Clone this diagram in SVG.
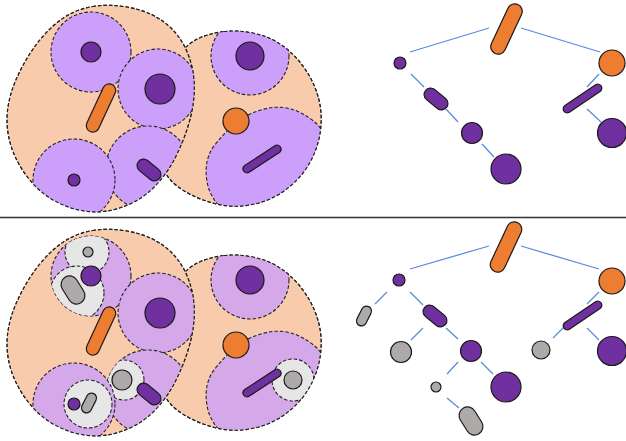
<svg xmlns="http://www.w3.org/2000/svg" xmlns:xlink="http://www.w3.org/1999/xlink" width="626" height="441" viewBox="0 0 626 441">
<style>
.blob{fill:#F8CBAD;stroke:#222;stroke-width:1.1;stroke-dasharray:3.5 2}
.line{fill:none;stroke:#222;stroke-width:1.1;stroke-dasharray:3.5 2}
.c1{fill:#CC9FFA;stroke:#222;stroke-width:1.1;stroke-dasharray:3.5 2}
.c2{fill:#D5A8EA;stroke:#222;stroke-width:1.1;stroke-dasharray:3.5 2}
.gc{fill:#E7E6E6;stroke:#222;stroke-width:1.1;stroke-dasharray:3.5 2}
.pu{fill:#7030A0;stroke:#1a1a1a;stroke-width:1.2}
.or{fill:#ED7D31;stroke:#1a1a1a;stroke-width:1.2}
.gr{fill:#AEAAAA;stroke:#1a1a1a;stroke-width:1.2}
.edge{stroke:#5B8BD9;stroke-width:1.3;fill:none}
</style>
<defs>
<path id="lb" d="M92.5,6.5 Q107,4 123.5,6.5 Q140,9 151.5,14.5 Q163,20 172,29 Q181,38 186.5,50.5 Q192,63 193.5,75.5 Q195,88 193.5,101 Q192,114 187.5,128 Q183,142 175.5,157 Q168,172 157,184 Q146,196 133,202.5 Q120,209 107.5,211 Q95,213 81.5,210.5 Q68,208 55,201 Q42,194 32,182.5 Q22,171 16,158.5 Q10,146 8,133 Q6,120 8,107 Q10,94 15,82 Q20,70 27.5,57.5 Q35,45 45,34 Q55,23 66.5,16 Q78,9 92.5,6.5 Z"/>
<path id="rb" d="M224,31.5 Q237,30 252.5,33 Q268,36 280,44 Q292,52 301,63.5 Q310,75 315,87.5 Q320,100 321,112.5 Q322,125 319,138.5 Q316,152 309,164 Q302,176 291,185.5 Q280,195 267.5,200 Q255,205 241.5,206 Q228,207 214.5,203.5 Q201,200 189.5,194 Q178,188 170.5,180 Q163,172 160.5,156 Q158,140 160.5,120 Q163,100 167.5,82.5 Q172,65 180,54 Q188,43 199.5,38 Q211,33 224,31.5 Z"/>
<path id="fc" d="M215.5,144 Q222,136 230,128 Q238,120 248,115 Q258,110 269,108 Q280,106 291,109 Q302,112 313.5,121 Q325,130 330,150 Q335,170 317.5,192.5 Q300,215 265,216.5 Q230,218 220,207 Q210,196 207.5,184 Q205,172 207,162 Q209,152 215.5,144 Z"/>
<clipPath id="cL1"><use xlink:href="#lb"/></clipPath>
<clipPath id="cR1"><use xlink:href="#rb"/></clipPath>
<clipPath id="cL2"><use xlink:href="#lb" transform="translate(0,224)"/></clipPath>
<clipPath id="cR2"><use xlink:href="#rb" transform="translate(0,224)"/></clipPath>
<clipPath id="cA2"><circle cx="91" cy="276" r="40"/></clipPath>
<clipPath id="cC2"><circle cx="74" cy="404" r="41"/></clipPath>
<clipPath id="cD2"><circle cx="148" cy="392" r="42"/></clipPath>
<clipPath id="cF2"><use xlink:href="#fc" transform="translate(0,224)"/></clipPath>
</defs>
<rect width="626" height="441" fill="#fff"/>

<!-- top map -->
<g id="top-map">
<g id="top-right-region">
<use xlink:href="#rb" class="blob"/>
<g clip-path="url(#cR1)">
<circle id="top-cell-E" class="c1" cx="250" cy="56" r="39"/>
<use id="top-cell-F" xlink:href="#fc" class="c1"/>
</g>
<use xlink:href="#rb" class="line"/>
</g>
<g id="top-left-region">
<use xlink:href="#lb" class="blob"/>
<g clip-path="url(#cL1)">
<circle id="top-cell-A" class="c1" cx="91" cy="52" r="40"/>
<circle id="top-cell-B" class="c1" cx="158" cy="89" r="40"/>
<circle id="top-cell-D" class="c1" cx="148" cy="168" r="42"/>
<circle id="top-cell-C" class="c1" cx="74" cy="180" r="41"/>
</g>
<use xlink:href="#lb" class="line"/>
</g>
<g id="top-map-items">
<circle class="pu" cx="91" cy="52" r="10"/>
<circle class="pu" cx="160" cy="89" r="15"/>
<circle class="pu" cx="74" cy="180" r="6"/>
<rect class="pu" x="-13.5" y="-6.5" width="27" height="13" rx="6.5" transform="translate(149,170) rotate(39)"/>
<rect class="or" x="-26" y="-6.5" width="52" height="13" rx="6.5" transform="translate(101,108) rotate(-65)"/>
<circle class="or" cx="236" cy="121" r="13"/>
<circle class="pu" cx="250" cy="56" r="14"/>
<rect class="pu" x="-22" y="-4" width="44" height="8" rx="4" transform="translate(262,159) rotate(-33)"/>
</g>
</g>

<line id="separator" x1="0" y1="217.5" x2="626" y2="217.5" stroke="#333" stroke-width="1.3"/>

<!-- bottom map -->
<g id="bottom-map">
<g id="bottom-right-region">
<use xlink:href="#rb" class="blob" transform="translate(0,224)"/>
<g clip-path="url(#cR2)">
<circle id="bottom-cell-E" class="c2" cx="250" cy="280" r="39"/>
<use id="bottom-cell-F" xlink:href="#fc" class="c2" transform="translate(0,224)"/>
<g clip-path="url(#cF2)">
<circle id="bottom-gray-G5" class="gc" cx="293" cy="380" r="21"/>
</g>
</g>
<use xlink:href="#rb" class="line" transform="translate(0,224)"/>
</g>
<g id="bottom-left-region">
<use xlink:href="#lb" class="blob" transform="translate(0,224)"/>
<g clip-path="url(#cL2)">
<circle id="bottom-cell-A" class="c2" cx="91" cy="276" r="40"/>
<g clip-path="url(#cA2)">
<circle id="bottom-gray-G1" class="gc" cx="87" cy="252" r="22"/>
<circle id="bottom-gray-G2" class="gc" cx="77" cy="293" r="27"/>
</g>
<circle id="bottom-cell-B" class="c2" cx="158" cy="313" r="40"/>
<circle id="bottom-cell-D" class="c2" cx="148" cy="392" r="42"/>
<g clip-path="url(#cD2)">
<circle id="bottom-gray-G4" class="gc" cx="124" cy="380" r="20"/>
</g>
<circle id="bottom-cell-C" class="c2" cx="74" cy="404" r="41"/>
<g clip-path="url(#cC2)">
<circle id="bottom-gray-G3" class="gc" cx="88" cy="404" r="24"/>
</g>
</g>
<use xlink:href="#lb" class="line" transform="translate(0,224)"/>
</g>
<g id="bottom-map-items">
<circle class="gr" cx="88" cy="252" r="5"/>
<rect class="gr" x="-15" y="-8.5" width="30" height="17" rx="8.5" transform="translate(73,290) rotate(58)"/>
<circle class="pu" cx="91" cy="276" r="10"/>
<circle class="pu" cx="160" cy="313" r="15"/>
<circle class="gr" cx="122" cy="380" r="10"/>
<rect class="pu" x="-13.5" y="-6.5" width="27" height="13" rx="6.5" transform="translate(149,394) rotate(39)"/>
<circle class="pu" cx="74" cy="404" r="6"/>
<rect class="gr" x="-10.5" y="-5" width="21" height="10" rx="5" transform="translate(89,403) rotate(-63)"/>
<rect class="or" x="-26" y="-6.5" width="52" height="13" rx="6.5" transform="translate(101,331) rotate(-65)"/>
<circle class="or" cx="236" cy="345" r="13"/>
<circle class="pu" cx="250" cy="280" r="14"/>
<circle class="gr" cx="293" cy="380" r="9"/>
<rect class="pu" x="-22" y="-4" width="44" height="8" rx="4" transform="translate(262,383) rotate(-33)"/>
</g>
</g>

<!-- connectors -->
<g id="connectors" class="edge">
<line x1="410" y1="52" x2="489" y2="28"/>
<line x1="521" y1="28" x2="600" y2="52"/>
<line x1="411" y1="74" x2="424" y2="87"/>
<line x1="446" y1="109" x2="458" y2="122"/>
<line x1="482" y1="144" x2="494" y2="157"/>
<line x1="599" y1="74" x2="587" y2="87"/>
<line x1="587" y1="109" x2="601" y2="122"/>

<line x1="410" y1="269" x2="489" y2="246"/>
<line x1="521" y1="246" x2="599" y2="269"/>
<line x1="387" y1="292" x2="375" y2="304"/>
<line x1="410" y1="292" x2="423" y2="305"/>
<line x1="423" y1="328" x2="411" y2="340"/>
<line x1="446" y1="328" x2="458" y2="339"/>
<line x1="458" y1="362" x2="447" y2="374"/>
<line x1="481" y1="362" x2="493" y2="374"/>
<line x1="447" y1="398" x2="459" y2="408"/>
<line x1="599" y1="292" x2="587" y2="304"/>
<line x1="563" y1="328" x2="553" y2="338"/>
<line x1="587" y1="328" x2="599" y2="340"/>
</g>

<!-- top tree nodes -->
<g id="t-root"><rect class="or" x="-27" y="-7.5" width="54" height="15" rx="7.5" transform="translate(506.5,29) rotate(-65)"/></g>
<g id="t-n1"><circle class="pu" cx="400" cy="63" r="6"/></g>
<g id="t-n2"><circle class="or" cx="612" cy="63" r="13"/></g>
<g id="t-n3"><rect class="pu" x="-13.5" y="-6.5" width="27" height="13" rx="6.5" transform="translate(436,99) rotate(39)"/></g>
<g id="t-n4"><circle class="pu" cx="472" cy="133" r="10.5"/></g>
<g id="t-n5"><circle class="pu" cx="506" cy="169" r="15"/></g>
<g id="t-n6"><rect class="pu" x="-22.5" y="-4" width="45" height="8" rx="4" transform="translate(582.5,98.5) rotate(-34)"/></g>
<g id="t-n7"><circle class="pu" cx="612" cy="133" r="14.5"/></g>

<!-- bottom tree nodes -->
<g id="b-root"><rect class="or" x="-27" y="-7.5" width="54" height="15" rx="7.5" transform="translate(506,247) rotate(-65)"/></g>
<g id="b-n1"><circle class="pu" cx="399" cy="280" r="6"/></g>
<g id="b-n2"><circle class="or" cx="612" cy="281" r="13"/></g>
<g id="b-n3"><rect class="gr" x="-10.5" y="-5" width="21" height="10" rx="5" transform="translate(364,316) rotate(-63)"/></g>
<g id="b-n4"><rect class="pu" x="-13.5" y="-6.5" width="27" height="13" rx="6.5" transform="translate(435,316) rotate(39)"/></g>
<g id="b-n5"><circle class="gr" cx="401" cy="352" r="10.5"/></g>
<g id="b-n6"><circle class="pu" cx="471" cy="351" r="10.5"/></g>
<g id="b-n7"><circle class="gr" cx="436" cy="387" r="5"/></g>
<g id="b-n8"><circle class="pu" cx="506" cy="387" r="15"/></g>
<g id="b-n9"><rect class="gr" x="-15" y="-8.5" width="30" height="17" rx="8.5" transform="translate(471,421) rotate(58)"/></g>
<g id="b-n10"><rect class="pu" x="-22.5" y="-4" width="45" height="8" rx="4" transform="translate(582.5,315.5) rotate(-34)"/></g>
<g id="b-n11"><circle class="gr" cx="541" cy="350" r="9"/></g>
<g id="b-n12"><circle class="pu" cx="612" cy="351" r="14.5"/></g>
</svg>
